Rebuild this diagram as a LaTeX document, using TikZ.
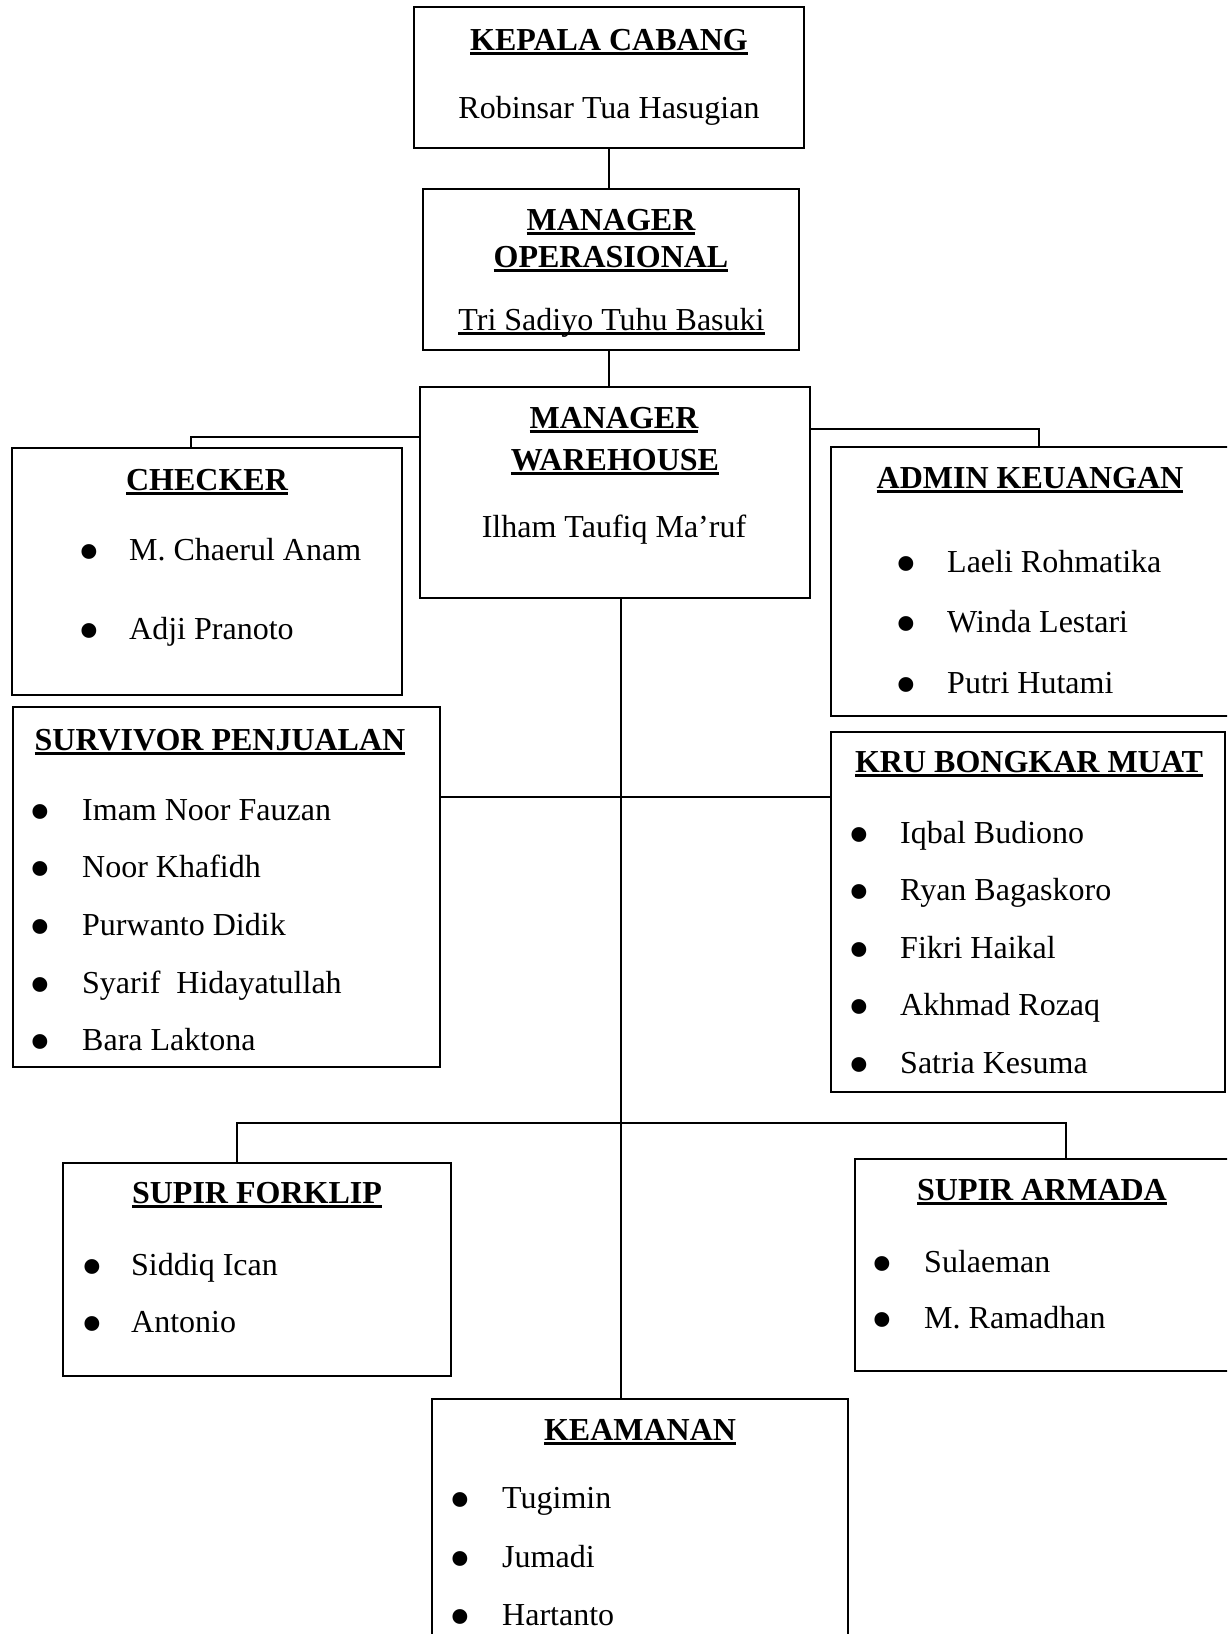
\documentclass[tikz,border=0pt]{standalone}
\usepackage{fontspec}
\setmainfont{Liberation Serif}
\newcommand\ulbox[1]{\setbox0\hbox{#1}\rlap{\vrule width\wd0 height -1.5pt depth 4.5pt}\box0}
\tikzset{
  box/.style={draw, line width=2pt, inner sep=0pt, rectangle},
  conn/.style={line width=1.8pt},
  ttl/.style={anchor=base, inner sep=0pt, font=\fontsize{32}{38}\selectfont\bfseries},
  nm/.style={anchor=base, inner sep=0pt, font=\fontsize{32}{38}\selectfont},
  itm/.style={anchor=base west, inner sep=0pt, font=\fontsize{32}{38}\selectfont},
  bul/.style={anchor=base, inner sep=0pt, font=\fontsize{62}{62}\selectfont},
}
\newcommand\pitem[5]{%
  \node[bul] (#1b) at (#2,#4) {\smash{\raisebox{-12pt}{•}}};
  \node[itm] (#1) at (#3,#4) {#5};}
\begin{document}
\begin{tikzpicture}[x=1pt,y=-1pt]
\useasboundingbox (0,0) rectangle (1227,1634);
\clip (0,0) rectangle (1227,1634);
\fill[white] (0,0) rectangle (1227,1634);
% boxes
\node[box, minimum width=390pt, minimum height=141pt] (kepala) at (609,77.5) {};
\node[box, minimum width=376pt, minimum height=161pt] (mo) at (611,269.5) {};
\node[box, minimum width=390pt, minimum height=211pt] (mw) at (615,492.5) {};
\node[box, minimum width=390pt, minimum height=247pt] (checker) at (207,571.5) {};
\node[box, minimum width=401pt, minimum height=269pt] (admin) at (1031.5,581.5) {};
\node[box, minimum width=427pt, minimum height=360pt] (survivor) at (226.5,887) {};
\node[box, minimum width=394pt, minimum height=360pt] (kru) at (1028,912) {};
\node[box, minimum width=388pt, minimum height=213pt] (forklip) at (257,1269.5) {};
\node[box, minimum width=377pt, minimum height=212pt] (armada) at (1043.5,1265) {};
\node[box, minimum width=416pt, minimum height=261pt] (keamanan) at (640,1529.5) {};
% texts
\node[ttl] (tkepala) at (609,50) {\ulbox{KEPALA CABANG}};
\node[nm] (nkepala) at (609,118) {Robinsar Tua Hasugian};
\node[ttl] (tmo1) at (611,230) {\ulbox{MANAGER}};
\node[ttl] (tmo2) at (611,267) {\ulbox{OPERASIONAL}};
\node[nm] (nmo) at (611.5,330) {\ulbox{Tri Sadiyo Tuhu Basuki}};
\node[ttl] (tmw1) at (614,428) {\ulbox{MANAGER}};
\node[ttl] (tmw2) at (615,470) {\ulbox{WAREHOUSE}};
\node[nm] (nmw) at (614,537) {Ilham Taufiq Ma’ruf};
\node[ttl] (tchecker) at (207,490) {\ulbox{CHECKER}};
\pitem{c1}{89}{129}{560}{M. Chaerul Anam}
\pitem{c2}{89}{129}{639}{Adji Pranoto}
\node[ttl] (tadmin) at (1030,488) {\ulbox{ADMIN KEUANGAN}};
\pitem{a1}{906}{947}{572}{Laeli Rohmatika}
\pitem{a2}{906}{947}{632}{Winda Lestari}
\pitem{a3}{906}{947}{693}{Putri Hutami}
\node[ttl] (tsurvivor) at (220,750) {\ulbox{SURVIVOR PENJUALAN}};
\pitem{s1}{40}{82}{820}{Imam Noor Fauzan}
\pitem{s2}{40}{82}{877}{Noor Khafidh}
\pitem{s3}{40}{82}{935}{Purwanto Didik}
\pitem{s4}{40}{82}{993}{Syarif\ \ Hidayatullah}
\pitem{s5}{40}{82}{1050}{Bara Laktona}
\node[ttl] (tkru) at (1029,772) {\ulbox{KRU BONGKAR MUAT}};
\pitem{k1}{859}{900}{843}{Iqbal Budiono}
\pitem{k2}{859}{900}{900}{Ryan Bagaskoro}
\pitem{k3}{859}{900}{958}{Fikri Haikal}
\pitem{k4}{859}{900}{1015}{Akhmad Rozaq}
\pitem{k5}{859}{900}{1073}{Satria Kesuma}
\node[ttl] (tforklip) at (257,1203) {\ulbox{SUPIR FORKLIP}};
\pitem{f1}{92}{131}{1275}{Siddiq Ican}
\pitem{f2}{92}{131}{1332}{Antonio}
\node[ttl] (tarmada) at (1042,1200) {\ulbox{SUPIR ARMADA}};
\pitem{r1}{882}{924}{1272}{Sulaeman}
\pitem{r2}{882}{924}{1328}{M. Ramadhan}
\node[ttl] (tkeamanan) at (640,1440) {\ulbox{KEAMANAN}};
\pitem{e1}{460}{502}{1508}{Tugimin}
\pitem{e2}{460}{502}{1567}{Jumadi}
\pitem{e3}{460}{502}{1625}{Hartanto}
% connectors
\coordinate (top) at (609,0);
\draw[conn] (top |- kepala.south) -- (top |- mo.north);
\draw[conn] (top |- mo.south) -- (top |- mw.north);
\coordinate (ck) at (191,437);
\draw[conn] (mw.west |- ck) -- (ck) -- (ck |- checker.north);
\coordinate (ak) at (1039,429);
\draw[conn] (mw.east |- ak) -- (ak) -- (ak |- admin.north);
\coordinate (spine) at (621,0);
\draw[conn] (spine |- mw.south) -- (spine |- keamanan.north);
\coordinate (mid) at (621,797);
\draw[conn] (survivor.east |- mid) -- (kru.west |- mid);
\coordinate (fl) at (237,1123);
\coordinate (ar) at (1066,1123);
\draw[conn] (fl |- forklip.north) -- (fl) -- (ar) -- (ar |- armada.north);
\end{tikzpicture}
\end{document}
